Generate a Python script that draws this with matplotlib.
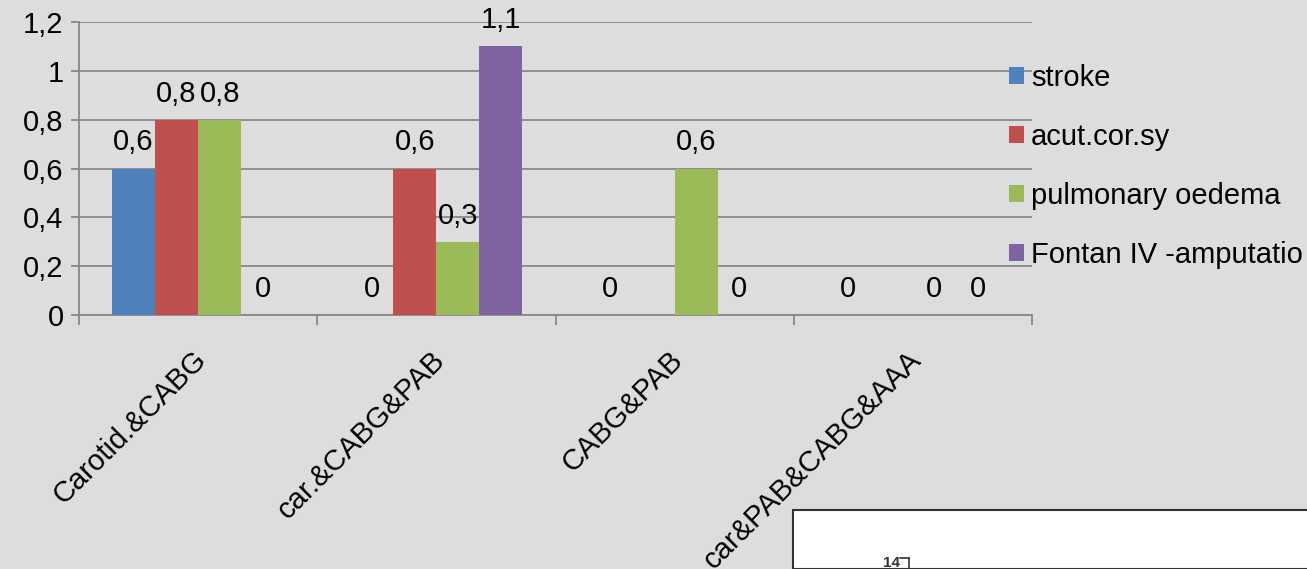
import numpy as np
import matplotlib
matplotlib.use("Agg")
import matplotlib.pyplot as plt
from matplotlib.patches import Rectangle
from matplotlib.lines import Line2D
from matplotlib.transforms import ScaledTranslation

plt.rcParams['font.family'] = ['Liberation Sans', 'DejaVu Sans']

categories = ["Carotid.&CABG", "car.&CABG&PAB", "CABG&PAB", "car&PAB&CABG&AAA"]
series_names = ["stroke", "acut.cor.sy", "pulmonary oedema", "Fontan IV -amputatio"]
stroke = [0.6, 0.0, 0.0, 0.0]
acut_cor_sy = [0.8, 0.6, np.nan, np.nan]
pulmonary_oedema = [0.8, 0.3, 0.6, 0.0]
fontan_amputation = [0.0, 1.1, 0.0, 0.0]
yticks = [0, 0.2, 0.4, 0.6, 0.8, 1.0, 1.2]
ytick_labels = ["0", "0,2", "0,4", "0,6", "0,8", "1", "1,2"]

series = [stroke, acut_cor_sy, pulmonary_oedema, fontan_amputation]
colors = ["#4f81bd", "#c0504d", "#9bbb59", "#8064a2"]
bg = "#dddddd"
grid_c = "#888888"
FS = 21

W, H = 1307, 569
fig = plt.figure(figsize=(W / 100, H / 100), dpi=100, facecolor=bg)
ax = fig.add_axes([79 / W, 1 - 315 / H, (1032 - 79) / W, (315 - 22) / H])
ax.set_facecolor(bg)

width = 0.1807
x = np.arange(len(categories))
for k, (vals, col, name) in enumerate(zip(series, colors, series_names)):
    pos = x + (k - 1.5) * width
    v = np.array(vals, dtype=float)
    ax.bar(pos, np.nan_to_num(v), width=width, color=col, label=name, zorder=3)
    for p, val in zip(pos, v):
        if np.isnan(val):
            continue
        ax.annotate(f"{val:g}".replace(".", ","), (p, val), xytext=(0, 13),
                    textcoords="offset points", ha="center", va="baseline",
                    fontsize=FS, color="black", zorder=4)

ax.set_xlim(-0.5, 3.5)
ax.set_ylim(0, 1.2)
ax.set_yticks(yticks)
ax.set_yticklabels(ytick_labels, fontsize=FS)
ax.yaxis.grid(True, color=grid_c, linewidth=1.3, zorder=0)
ax.set_axisbelow(True)
ax.tick_params(axis="y", length=6, color=grid_c, width=1.3, pad=5)

ax.set_xticks(x)
ax.set_xticklabels(categories, rotation=45, ha="right", rotation_mode="anchor",
                   fontsize=FS)
ax.tick_params(axis="x", which="major", length=0, pad=22)
shift = ScaledTranslation(-6 / 100, 0, fig.dpi_scale_trans)
for lbl in ax.get_xticklabels():
    lbl.set_transform(lbl.get_transform() + shift)
ax.set_xticks(np.arange(-0.5, 4.0, 1.0), minor=True)
ax.tick_params(axis="x", which="minor", length=7, color=grid_c, width=1.3)

for s in ["top", "right"]:
    ax.spines[s].set_visible(False)
for s in ["left", "bottom"]:
    ax.spines[s].set_color(grid_c)
    ax.spines[s].set_linewidth(1.3)

leg = ax.legend(loc="upper left", bbox_to_anchor=(1009 / W, 1 - 64 / H),
                bbox_transform=fig.transFigure, frameon=False, fontsize=FS,
                handlelength=0.5, handleheight=0.5, handletextpad=0.25,
                labelspacing=1.06, borderpad=0, borderaxespad=0)

# overlapping inset panel in the lower right corner
fig.patches.append(Rectangle((793 / W, 0), (W - 793) / W + 0.01, (569 - 510) / H,
                             transform=fig.transFigure, facecolor="white",
                             edgecolor="#333333", linewidth=1.5, zorder=10))
fig.text(883 / W, 1 - 567 / H, "14", fontsize=11, fontweight="bold",
         color="#333333", va="baseline", zorder=11)
fig.lines.append(Line2D([900 / W, 909 / W], [1 - 558 / H, 1 - 558 / H],
                        transform=fig.transFigure, color="#333333", lw=1.2,
                        zorder=11))
fig.lines.append(Line2D([909 / W, 909 / W], [1 - 558 / H, 1 - 569 / H],
                        transform=fig.transFigure, color="#333333", lw=1.2,
                        zorder=11))

fig.savefig("out.png", dpi=100, facecolor=bg)
